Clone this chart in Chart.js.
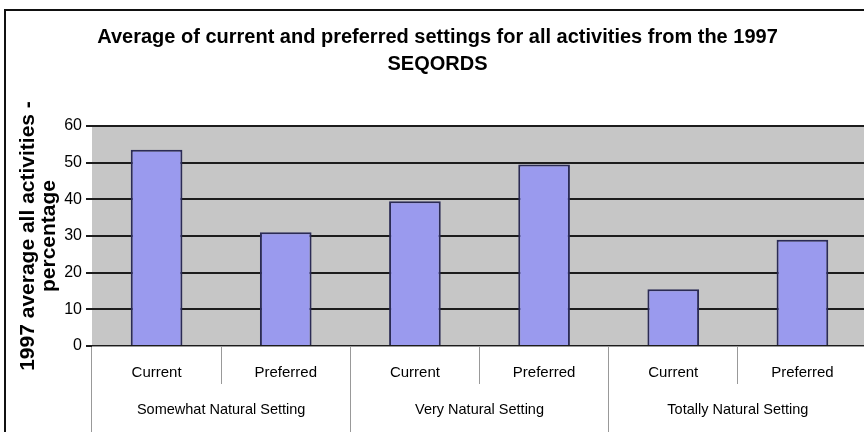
<!DOCTYPE html>
<html>
<head>
<meta charset="utf-8">
<script src="https://cdn.jsdelivr.net/npm/chart.js@4/dist/chart.umd.min.js"></script>
<style>
  html, body { margin: 0; padding: 0; background: #fff; overflow: hidden; }
  #wrap { position: absolute; left: 0; top: 0; width: 880px; height: 432px; }
  #frame { position: absolute; left: 4px; top: 9px; width: 2000px; height: 2000px;
           border-left: 2px solid #111; border-top: 2px solid #111; pointer-events: none; }
</style>
</head>
<body>
<div id="wrap"><canvas id="chart"></canvas></div>
<div id="frame"></div>
<script>
// data
const groups = ['Somewhat Natural Setting', 'Very Natural Setting', 'Totally Natural Setting']
const settings = ['Current', 'Preferred']
const values = [53.5, 31, 39.5, 49.5, 15.5, 29]
const yMin = 0
const yMax = 60
const yStep = 10
const titleLines = ['Average of current and preferred settings for all activities from the 1997', 'SEQORDS']
const yTitle = ['1997 average all activities -', 'percentage']

const categories = []
groups.forEach(() => settings.forEach(s => categories.push(s)))

const arial = "'Liberation Sans', Arial, sans-serif"

// grey plot background like the old excel chart
const plotBg = {
    id: 'plotBg',
    beforeDraw: (chart) => {
        const a = chart.chartArea
        const ctx = chart.ctx
        ctx.save()
        ctx.fillStyle = '#c6c6c6'
        ctx.fillRect(a.left, a.top, a.right - a.left, a.bottom - a.top)
        ctx.restore()
    }
}

new Chart(document.getElementById('chart').getContext('2d'), {
    type: 'bar',
    data: {
        labels: categories,
        datasets: [{
            data: values,
            backgroundColor: '#9a9aee',
            borderColor: '#2b2b55',
            borderWidth: 2,
            barPercentage: 0.4,
            categoryPercentage: 1
        }]
    },
    plugins: [plotBg],
    options: {
        responsive: true,
        maintainAspectRatio: false,
        animation: false,
        devicePixelRatio: 1,
        layout: { padding: { left: 8, right: 13, top: 0, bottom: 0 } },
        plugins: {
            legend: { display: false },
            tooltip: { enabled: false },
            title: {
                display: true,
                text: titleLines,
                color: '#000',
                font: { family: arial, size: 20, weight: 'bold', lineHeight: 1.35 },
                padding: { top: 24, bottom: 48 }
            }
        },
        scales: {
            x: {
                type: 'category',
                position: 'bottom',
                weight: 0,
                offset: true,
                grid: { offset: true, drawOnChartArea: false, tickLength: 38, color: '#999', lineWidth: 1 },
                border: { display: true, color: '#999', width: 1 },
                ticks: { color: '#000', padding: -20, maxRotation: 0, autoSkip: false,
                         font: { family: arial, size: 15, lineHeight: 1.2 } },
                afterFit: (s) => { s.height = 38 }
            },
            x2: {
                type: 'category',
                position: 'bottom',
                weight: 1,
                labels: groups,
                offset: true,
                grid: { offset: true, drawOnChartArea: false, tickLength: 48, color: '#999', lineWidth: 1 },
                border: { display: false },
                ticks: { color: '#000', padding: -31, maxRotation: 0, autoSkip: false,
                         font: { family: arial, size: 14.5, lineHeight: 1.2 } },
                afterFit: (s) => { s.height = 48 }
            },
            y: {
                min: yMin,
                max: yMax,
                ticks: { stepSize: yStep, color: '#000', padding: 4,
                         font: { family: arial, size: 16 } },
                grid: { color: '#1c1c1c', lineWidth: 2, tickLength: 6 },
                border: { display: false },
                title: {
                    display: true,
                    text: yTitle,
                    color: '#000',
                    font: { family: arial, size: 21, weight: 'bold', lineHeight: 0.98 },
                    padding: { top: 10, bottom: 0 }
                },
                afterFit: (s) => { s.width = 84 }
            }
        }
    }
})
</script>
</body>
</html>
